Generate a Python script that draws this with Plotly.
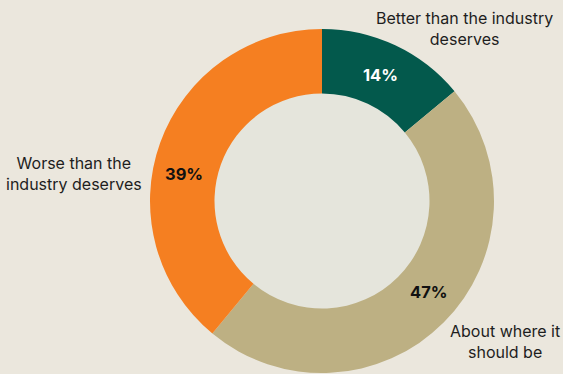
import plotly.graph_objects as go

W, H = 563, 374

# Survey responses (share of respondents)
categories = ["Better than the industry<br>deserves", "About where it<br>should be", "Worse than the<br>industry deserves"]
values = [14, 47, 39]
slice_colors = ["#03594C", "#BDB083", "#F57F21"]
pct_colors = ["#FFFFFF", "#111111", "#111111"]

BG = "#EBE7DD"
HOLE_BG = "#E5E5DC"

# Donut geometry in pixels
cx, cy, r_out = 322, 201, 172
hole = 0.625


def px(x):
    return x / W


def py(y):
    return 1 - y / H


fig = go.Figure(
    go.Pie(
        labels=[c.replace("<br>", " ") for c in categories],
        values=values,
        marker=dict(colors=slice_colors, line=dict(width=0)),
        hole=hole,
        sort=False,
        direction="clockwise",
        rotation=0,
        textinfo="none",
        hoverinfo="label+percent",
        showlegend=False,
        domain=dict(x=[px(cx - r_out), px(cx + r_out)], y=[py(cy + r_out), py(cy - r_out)]),
    )
)

# Slightly lighter disc filling the donut hole
r_in = r_out * hole + 3
fig.add_shape(
    type="circle", xref="paper", yref="paper", layer="below",
    x0=px(cx - r_in), x1=px(cx + r_in), y0=py(cy + r_in), y1=py(cy - r_in),
    fillcolor=HOLE_BG, line=dict(width=0),
)

# Percentage labels on the ring
pct_pos = [(380.5, 75), (429, 292), (183.5, 173.5)]
for v, (x, y), col in zip(values, pct_pos, pct_colors):
    fig.add_annotation(
        x=px(x), y=py(y), xref="paper", yref="paper", showarrow=False,
        text=f"<b>{v}%</b>", xanchor="center", yanchor="middle",
        font=dict(family="Inter", size=16.5, color=col),
    )

# Category labels outside the ring
cat_pos = [(464.5, 29), (504.5, 341), (73.5, 173)]
for c, (x, y) in zip(categories, cat_pos):
    fig.add_annotation(
        x=px(x), y=py(y), xref="paper", yref="paper", showarrow=False,
        text=c, xanchor="center", yanchor="middle", align="center",
        font=dict(family="Inter", size=16, color="#1E1E1E"),
    )

fig.update_layout(
    width=W, height=H,
    margin=dict(l=0, r=0, t=0, b=0),
    paper_bgcolor=BG, plot_bgcolor=BG,
)

fig.write_html("out.html")
